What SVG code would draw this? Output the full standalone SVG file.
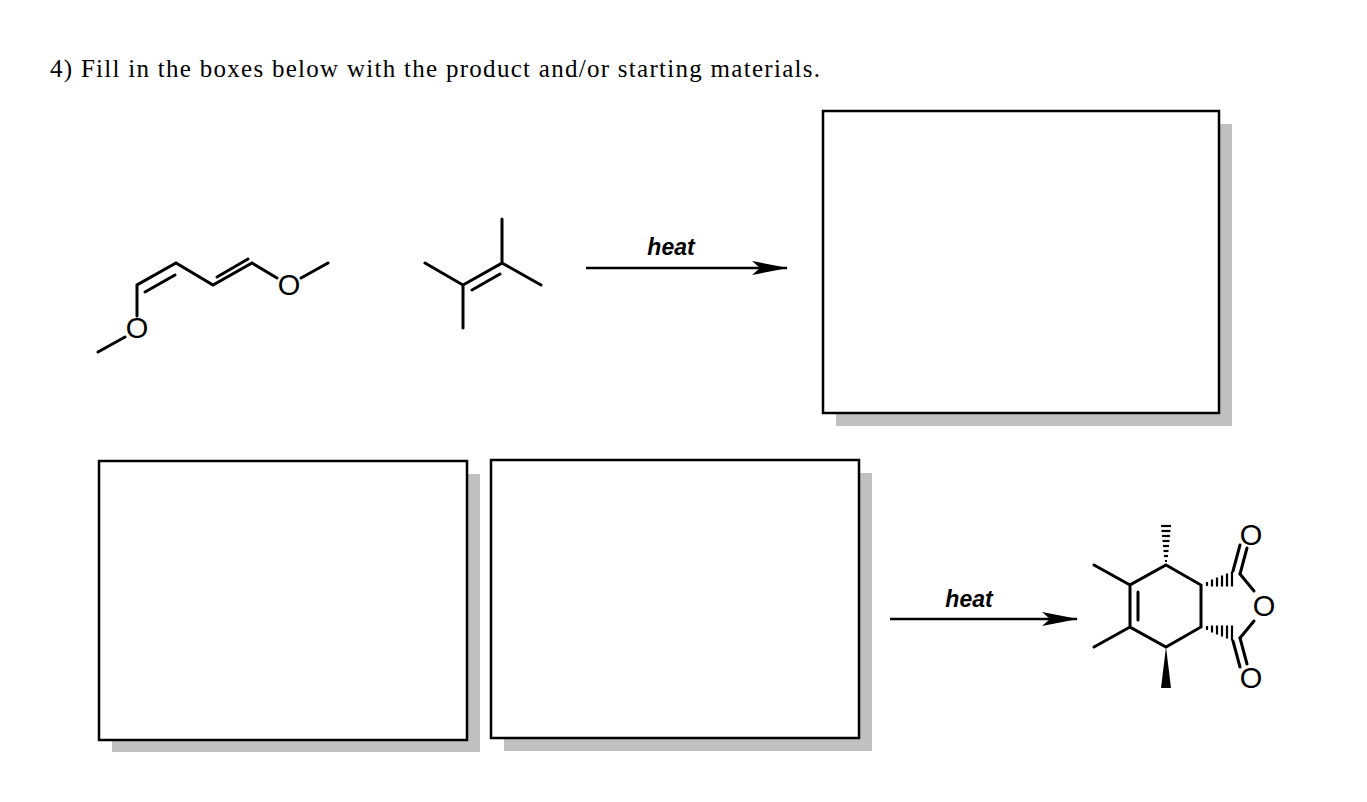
<svg xmlns="http://www.w3.org/2000/svg" width="1367" height="802" viewBox="0 0 1367 802">
<style>
.box{fill:#fff;stroke:#000;stroke-width:2.5}
.sh{fill:#c0c0c0}
.b{stroke:#000;stroke-width:3;fill:none;stroke-linecap:round}
.at{font-family:"Liberation Sans",Arial,sans-serif;font-size:29px;text-anchor:middle;dominant-baseline:central}
.lbl{font-family:"Liberation Sans",Arial,sans-serif;font-size:23px;font-weight:bold;font-style:italic;text-anchor:middle}
</style>
<defs>
<marker id="ah2" viewBox="0 0 36 14" markerWidth="36" markerHeight="14" refX="35" refY="7" orient="auto" markerUnits="userSpaceOnUse"><path d="M0,0 L36,7 L0,14 L8,7 Z" fill="#000"/></marker>
</defs>
<rect width="1367" height="802" fill="#fff"/>
<text x="50" y="77" font-family="Liberation Serif,serif" font-size="25" textLength="770" lengthAdjust="spacing">4)   Fill in the boxes below with the product and/or starting materials.</text>
<g id="box1"><rect class="sh" x="836" y="124" width="396" height="302"/><rect class="box" x="823" y="111" width="396" height="302"/></g>
<g id="box2"><rect class="sh" x="112" y="474" width="368" height="278"/><rect class="box" x="99" y="461" width="368" height="279"/></g>
<g id="box3"><rect class="sh" x="504" y="473" width="368" height="278"/><rect class="box" x="491" y="460" width="368" height="278"/></g>
<g id="diene">
<path class="b" d="M98,352 L125,337 M137,316 L137,285 L176,263 L213,285 L252,263 L277,278 M301,278 L328,263"/>
<path class="b" d="M145,292 L175,275 M217,277 L248,259"/>
<text class="at" x="137" y="328">O</text>
<text class="at" x="289" y="285">O</text>
</g>
<g id="alkene">
<path class="b" d="M425,263 L463,285 L463,328 M463,285 L502,263 L502,219 M502,263 L541,285 M472,290 L500,274"/>
</g>
<g id="product">
<path class="b" d="M1166,565 L1201,585 L1201,627 L1166,647 L1130,627 L1130,585 Z M1138,592 L1138,620 M1130,585 L1094,565 M1130,627 L1094,647"/>
<path class="b" d="M1240,574 L1254,591 M1240,638 L1254,621"/>
<path class="b" d="M1240,574 L1247,548 M1233,571 L1240,545 M1240,638 L1247,664 M1233,641 L1240,667"/>
<path d="M1166,647 L1161,688 L1171,688 Z" fill="#000"/>
<g stroke="#000" stroke-width="2.2">
<line x1="1165" y1="561" x2="1167" y2="561"/><line x1="1164" y1="556" x2="1168" y2="556"/><line x1="1163.5" y1="551" x2="1168.5" y2="551"/><line x1="1163" y1="546" x2="1169" y2="546"/><line x1="1162.5" y1="541" x2="1169.5" y2="541"/><line x1="1162" y1="536" x2="1170" y2="536"/><line x1="1161.5" y1="531" x2="1170.5" y2="531"/><line x1="1161" y1="526" x2="1171" y2="526"/>
<line x1="1207" y1="582" x2="1207" y2="586"/><line x1="1212" y1="579.5" x2="1212" y2="586.5"/><line x1="1217" y1="577.5" x2="1217" y2="586.5"/><line x1="1222" y1="575.5" x2="1222" y2="586.5"/><line x1="1227" y1="573.5" x2="1227" y2="586.5"/><line x1="1232" y1="571.5" x2="1232" y2="586.5"/>
<line x1="1207" y1="626" x2="1207" y2="630"/><line x1="1212" y1="625.5" x2="1212" y2="632.5"/><line x1="1217" y1="625.5" x2="1217" y2="634.5"/><line x1="1222" y1="625.5" x2="1222" y2="636.5"/><line x1="1227" y1="625.5" x2="1227" y2="638.5"/><line x1="1232" y1="625.5" x2="1232" y2="640.5"/>
</g>
<text class="at" x="1251" y="535">O</text>
<text class="at" x="1264" y="606">O</text>
<text class="at" x="1251" y="678">O</text>
</g>
<g id="connectors">
<line x1="586" y1="268" x2="787" y2="268" stroke="#000" stroke-width="2.5" marker-end="url(#ah2)"/>
<line x1="890" y1="619" x2="1077" y2="619" stroke="#000" stroke-width="2.5" marker-end="url(#ah2)"/>
<text class="lbl" x="671" y="255">heat</text>
<text class="lbl" x="969" y="607">heat</text>
</g>
</svg>
